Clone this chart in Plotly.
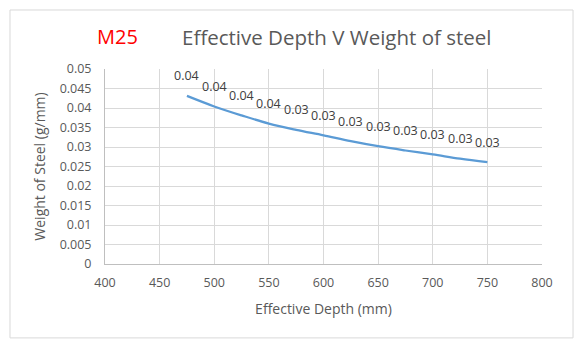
import plotly.graph_objects as go

depth_mm = [475, 500, 525, 550, 575, 600, 625, 650, 675, 700, 725, 750]
weight_g_per_mm = [0.0431, 0.0404, 0.0381, 0.0360, 0.0344, 0.0330, 0.0315, 0.0302,
                   0.0291, 0.0281, 0.0270, 0.0261]
x_ticks = [400, 450, 500, 550, 600, 650, 700, 750, 800]
y_ticks = [0, 0.005, 0.01, 0.015, 0.02, 0.025, 0.03, 0.035, 0.04, 0.045, 0.05]
y_tick_labels = ["0", "0.005", "0.01", "0.015", "0.02", "0.025", "0.03", "0.035", "0.04", "0.045", "0.05"]

FONT = "Open Sans"
GRAY = "#595959"

fig = go.Figure()
fig.add_trace(go.Scatter(
    x=depth_mm, y=weight_g_per_mm, mode="lines",
    line=dict(color="#5b9bd5", width=2.25, shape="spline"),
    hoverinfo="x+y", showlegend=False,
))

annotations = []
for x, y in zip(depth_mm, weight_g_per_mm):
    annotations.append(dict(
        x=x, y=y, xref="x", yref="y", text=f"{y:.2f}", showarrow=False,
        yshift=20, xshift=0, font=dict(family=FONT, size=12.5, color="#404040"),
    ))
annotations.append(dict(
    x=-0.022, y=1.165, xref="paper", yref="paper", text="M25", showarrow=False,
    xanchor="left", yanchor="middle", font=dict(family=FONT, size=20, color="#ff0000"),
))
annotations.append(dict(
    x=0.531, y=1.165, xref="paper", yref="paper", text="Effective Depth V Weight of steel",
    showarrow=False, xanchor="center", yanchor="middle",
    font=dict(family=FONT, size=20.5, color=GRAY),
))

fig.update_layout(
    width=585, height=352,
    margin=dict(l=105, r=43, t=69, b=88),
    paper_bgcolor="white", plot_bgcolor="white",
    font=dict(family=FONT, size=12.5, color=GRAY),
    annotations=annotations,
    shapes=[dict(type="rect", xref="paper", yref="paper",
                 x0=-0.2174, x1=1.071, y0=-0.379, y1=1.3026,
                 line=dict(color="#d9d9d9", width=1), fillcolor="rgba(0,0,0,0)", layer="below")],
    xaxis=dict(
        range=[400, 800], tickvals=x_ticks, ticktext=[str(v) for v in x_ticks],
        showgrid=True, gridcolor="#d9d9d9", gridwidth=1,
        showline=True, linecolor="#bfbfbf", linewidth=1, zeroline=False,
        ticks="outside", ticklen=7, tickcolor="rgba(0,0,0,0)",
        tickfont=dict(family=FONT, size=12.5, color=GRAY),
        title=dict(text="Effective Depth (mm)", font=dict(family=FONT, size=14, color=GRAY), standoff=14),
    ),
    yaxis=dict(
        range=[0, 0.05], tickvals=y_ticks, ticktext=y_tick_labels,
        showgrid=True, gridcolor="#d9d9d9", gridwidth=1,
        showline=True, linecolor="#bfbfbf", linewidth=1, zeroline=False,
        ticks="outside", ticklen=10, tickcolor="rgba(0,0,0,0)",
        tickfont=dict(family=FONT, size=12.5, color=GRAY),
        title=dict(text="Weight of Steel (g/mm)", font=dict(family=FONT, size=14, color=GRAY), standoff=10),
    ),
)

fig.write_html("out.html", config={"displayModeBar": False},
               post_script="document.body.style.margin='0px';")
